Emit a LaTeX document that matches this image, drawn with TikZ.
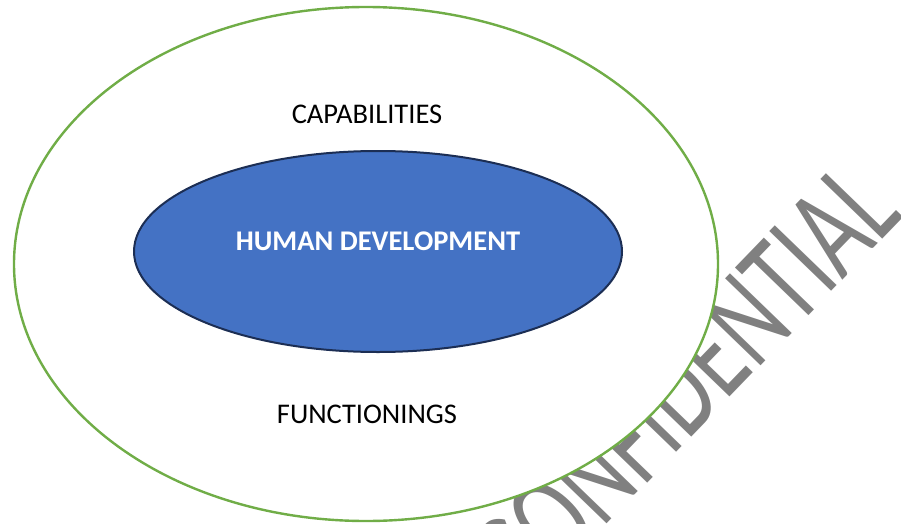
\documentclass[tikz,border=0pt]{standalone}
\usepackage{fontspec}
\setmainfont{Carlito}
\usetikzlibrary{shapes.geometric}
\definecolor{outergreen}{RGB}{112,173,71}
\definecolor{innerblue}{RGB}{68,114,196}
\definecolor{innernavy}{RGB}{28,46,84}
\definecolor{wmgray}{RGB}{128,128,128}
\tikzset{
  outerell/.style={ellipse, draw=outergreen, line width=2.4pt, fill=white, inner sep=0pt,
    minimum width=704pt, minimum height=514pt},
  innerell/.style={ellipse, draw=innernavy, line width=2pt, fill=innerblue, inner sep=0pt,
    minimum width=488pt, minimum height=201pt},
  lbl/.style={inner sep=0pt, anchor=base, font=\fontsize{28.5}{30}\selectfont},
  wm/.style={inner sep=0pt, text=wmgray, anchor=base east, rotate=46}
}
\begin{document}
\begin{tikzpicture}[x=1pt,y=-1pt]
\useasboundingbox (0,0) rectangle (901,524);
\node[wm] (watermark) at (905,216) {\scalebox{0.67}[1]{\fontsize{134}{134}\selectfont CONFIDENTIAL}};
\node[outerell] (outer) at (366,264) {};
\node[innerell] (inner) at (378,251.5) {};
\node[lbl] (cap) at (367,123) {CAPABILITIES};
\node[lbl, text=white, font=\fontsize{28.5}{30}\selectfont\bfseries] (hd) at (378,250) {HUMAN DEVELOPMENT};
\node[lbl] (func) at (367,423) {FUNCTIONINGS};
\end{tikzpicture}
\end{document}
